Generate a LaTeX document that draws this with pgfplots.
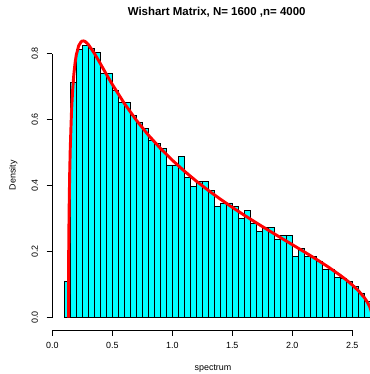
\documentclass[border=0pt]{standalone}
\usepackage{pgfplots}
\pgfplotsset{compat=1.18}
\usepackage{fontspec}
\setmainfont{Liberation Sans}
\definecolor{rcyan}{RGB}{0,255,255}
\definecolor{rred}{RGB}{255,0,0}
\begin{document}
\begin{tikzpicture}
\begin{axis}[
 at={(39.2pt,33pt)}, anchor=south west,
 scale only axis, width=238.3pt, height=225.75pt,
 xmin=0, xmax=2.648, ymin=-0.0373, ymax=0.875,
 axis x line*=bottom, axis y line*=left,
 axis line style={draw=none},
 tick align=outside, major tick length=4.2pt,
 tick style={black, line width=0.6pt},
 xtick={0,0.5,1,1.5,2,2.5}, xticklabels={0.0,0.5,1.0,1.5,2.0,2.5},
 ytick={0,0.2,0.4,0.6,0.8}, yticklabels={0.0,0.2,0.4,0.6,0.8},
 ticklabel style={font=\fontsize{6.7}{8}\selectfont, text=black},
 yticklabel style={rotate=90, anchor=south},
 xticklabel shift=1.8pt, yticklabel shift=3pt,
]
\addplot[ybar interval, fill=rcyan, draw=black, line width=0.55pt] coordinates {
(0.10,0.111) (0.15,0.713) (0.20,0.814) (0.25,0.826) (0.30,0.816)
(0.35,0.803) (0.40,0.741) (0.45,0.741) (0.50,0.688) (0.55,0.652)
(0.60,0.652) (0.65,0.614) (0.70,0.591) (0.75,0.574) (0.80,0.538)
(0.85,0.528) (0.90,0.513) (0.95,0.463) (1.00,0.463) (1.05,0.488)
(1.10,0.425) (1.15,0.399) (1.20,0.412) (1.25,0.412) (1.30,0.387)
(1.35,0.336) (1.40,0.348) (1.45,0.348) (1.50,0.336) (1.55,0.300)
(1.60,0.324) (1.65,0.286) (1.70,0.261) (1.75,0.274) (1.80,0.274)
(1.85,0.238) (1.90,0.249) (1.95,0.249) (2.00,0.185) (2.05,0.210)
(2.10,0.185) (2.15,0.185) (2.20,0.172) (2.25,0.147) (2.30,0.147)
(2.35,0.122) (2.40,0.119) (2.45,0.109) (2.50,0.096) (2.55,0.075)
(2.60,0.048) (2.65,0.048)
};
\addplot[rred, line width=2.2pt, line join=round] coordinates {
(0.1351,0) (0.136,0.1404) (0.137,0.2019) (0.14,0.3165) (0.145,0.4337)
(0.15,0.5137) (0.16,0.6212) (0.17,0.6908) (0.18,0.7385) (0.19,0.7720)
(0.20,0.7958) (0.22,0.8240) (0.24,0.8362) (0.25,0.8384) (0.26,0.8388)
(0.27,0.8377) (0.28,0.8354) (0.30,0.8283) (0.35,0.8018) (0.40,0.7705)
(0.45,0.7384) (0.50,0.7073) (0.60,0.6497) (0.70,0.5989) (0.80,0.5538)
(0.90,0.5137) (1.00,0.4775) (1.10,0.4445) (1.20,0.4141) (1.30,0.3859)
(1.40,0.3595) (1.50,0.3345) (1.60,0.3106) (1.70,0.2876) (1.80,0.2653)
(1.90,0.2433) (2.00,0.2215) (2.10,0.1996) (2.20,0.1772) (2.30,0.1538)
(2.40,0.1284) (2.45,0.1145) (2.50,0.0994) (2.55,0.0822) (2.60,0.0612)
(2.62,0.0507) (2.64,0.0376) (2.65,0.0291) (2.66,0.0167) (2.6649,0)
};
\coordinate (xa) at (axis cs:0,-0.0373);
\coordinate (xb) at (axis cs:2.5,-0.0373);
\coordinate (ya) at (axis cs:0,0);
\coordinate (yb) at (axis cs:0,0.8);
\end{axis}
\draw[black, line width=0.6pt] (xa) -- (xb);
\draw[black, line width=0.6pt] (ya) -- (yb);
\node[font=\bfseries\fontsize{8.6}{10}\selectfont] at (162.5pt,271.5pt) {Wishart Matrix, N= 1600 ,n= 4000};
\node[font=\fontsize{6.7}{8}\selectfont, anchor=base] at (159.75pt,2.4pt) {spectrum};
\node[font=\fontsize{6.7}{8}\selectfont, rotate=90] at (10pt,149pt) {Density};
\pgfresetboundingbox
\path (0,0) rectangle (277.5pt,280.5pt);
\end{tikzpicture}
\end{document}
